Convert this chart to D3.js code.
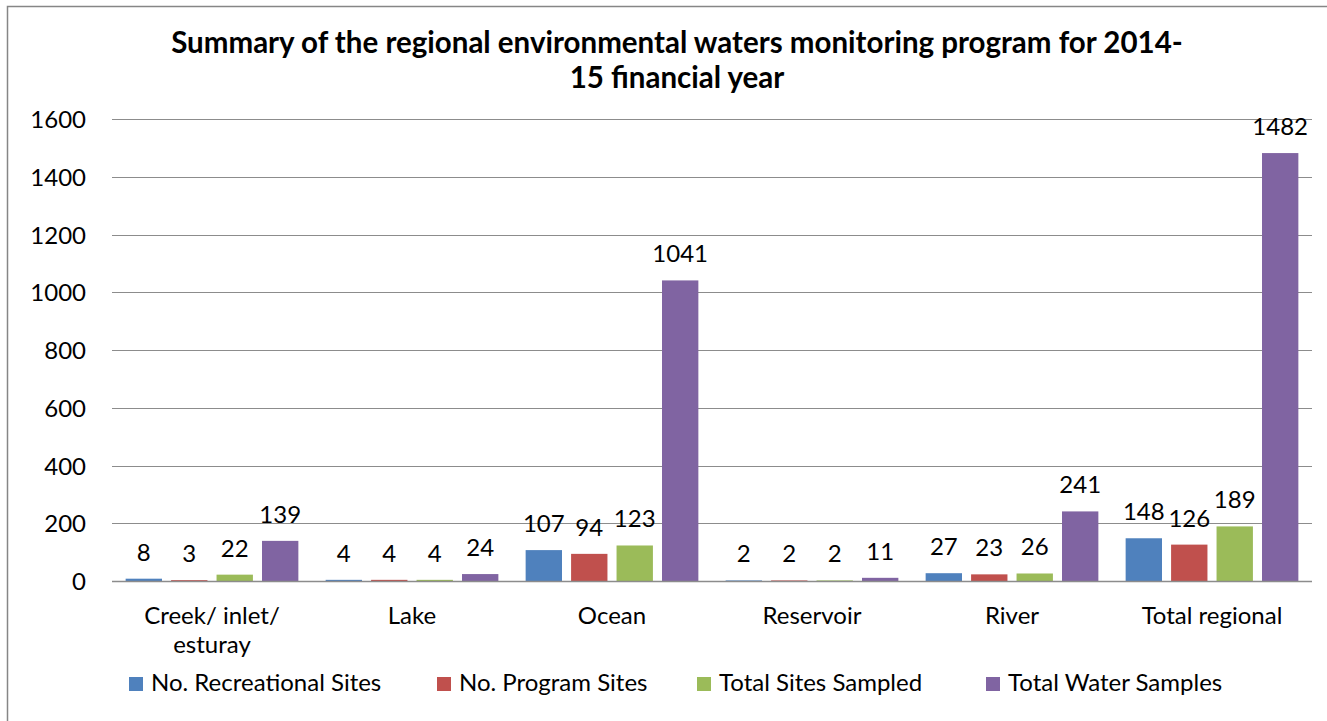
<!DOCTYPE html>
<html>
<head>
<meta charset="utf-8">
<script src="https://cdn.jsdelivr.net/npm/d3@7"></script>
<style>
  html, body { margin: 0; padding: 0; background: #fff; }
  svg { display: block; font-family: Lato, "Open Sans", sans-serif; }
</style>
</head>
<body>
<svg id="chart" width="1327" height="721"></svg>
<script>
// Regional environmental waters monitoring, 2014-15
const categories = [["Creek/ inlet/", "esturay"], ["Lake"], ["Ocean"], ["Reservoir"], ["River"], ["Total regional"]];
const seriesNames = ["No. Recreational Sites", "No. Program Sites", "Total Sites Sampled", "Total Water Samples"];
const recreationalSites = [8, 4, 107, 2, 27, 148];
const programSites = [3, 4, 94, 2, 23, 126];
const sitesSampled = [22, 4, 123, 2, 26, 189];
const waterSamples = [139, 24, 1041, 11, 241, 1482];
const yTicks = [0, 200, 400, 600, 800, 1000, 1200, 1400, 1600];
const colors = ["#4F81BD", "#C0504D", "#9BBB59", "#8064A2"];
const titleLines = ["Summary of the regional environmental waters monitoring program for 2014-", "15 financial year"];

const series = [recreationalSites, programSites, sitesSampled, waterSamples];
const FS = 24;

const svg = d3.select("#chart");

// chart frame
svg.append("rect")
  .attr("x", 7.5).attr("y", 6.5)
  .attr("width", 1340).attr("height", 740)
  .attr("fill", "#fff").attr("stroke", "#868686").attr("stroke-width", 1.5);

const plot = { left: 112, right: 1312, top: 119, bottom: 581 };

const x0 = d3.scaleBand()
  .domain(d3.range(categories.length))
  .range([plot.left, plot.right])
  .paddingInner(0).paddingOuter(0);

// clustered bars: gap width 75%, overlap -25%
const groupW = x0.bandwidth();
const barW = groupW / (4 + 3 * 0.25 + 0.75);
const barStep = barW * 1.25;
const groupPad = barW * 0.375;

const y = d3.scaleLinear().domain([0, 1600]).range([plot.bottom, plot.top]);

// gridlines
svg.append("g")
  .selectAll("line")
  .data(yTicks)
  .join("line")
  .attr("x1", plot.left).attr("x2", plot.right)
  .attr("y1", d => Math.round(y(d)) + 0.5).attr("y2", d => Math.round(y(d)) + 0.5)
  .attr("stroke", "#8C8C8C").attr("stroke-width", 1.2);

// y axis labels
const yAxis = d3.axisLeft(y).tickValues(yTicks).tickFormat(d3.format("d")).tickSize(0).tickPadding(0);
const yG = svg.append("g").attr("transform", `translate(${plot.left - 26},0)`).call(yAxis);
yG.select(".domain").remove();
yG.selectAll("text")
  .attr("font-family", "Lato, sans-serif")
  .attr("font-size", FS)
  .attr("fill", "#000")
  .attr("dy", "0.36em");

// bars with value labels
const groups = svg.append("g")
  .selectAll("g")
  .data(series)
  .join("g")
  .attr("fill", (d, i) => colors[i]);

groups.each(function(vals, si) {
  const g = d3.select(this);
  g.selectAll("rect")
    .data(vals)
    .join("rect")
    .attr("x", (v, ci) => x0(ci) + groupPad + si * barStep)
    .attr("width", barW)
    .attr("y", v => y(v))
    .attr("height", v => y(0) - y(v));
  g.selectAll("text")
    .data(vals)
    .join("text")
    .attr("x", (v, ci) => x0(ci) + groupPad + si * barStep + barW / 2)
    .attr("y", v => y(v) - 18)
    .attr("text-anchor", "middle")
    .attr("font-size", FS)
    .attr("fill", "#000")
    .text(v => v);
});

// baseline axis
svg.append("line")
  .attr("x1", plot.left).attr("x2", plot.right)
  .attr("y1", Math.round(y(0)) + 0.5).attr("y2", Math.round(y(0)) + 0.5)
  .attr("stroke", "#8C8C8C").attr("stroke-width", 1.5);

// category labels
const catG = svg.append("g")
  .selectAll("text")
  .data(categories)
  .join("text")
  .attr("x", (d, i) => x0(i) + groupW / 2)
  .attr("y", 624)
  .attr("text-anchor", "middle")
  .attr("font-size", FS)
  .attr("fill", "#000");
catG.selectAll("tspan")
  .data(d => d)
  .join("tspan")
  .attr("x", function() { return d3.select(this.parentNode).attr("x"); })
  .attr("dy", (d, i) => i === 0 ? 0 : 29)
  .text(d => d);

// title
svg.append("g")
  .selectAll("text")
  .data(titleLines)
  .join("text")
  .attr("x", 677)
  .attr("y", (d, i) => 53 + i * 35)
  .attr("text-anchor", "middle")
  .attr("font-size", 29.5)
  .attr("font-weight", "bold")
  .attr("fill", "#000")
  .text(d => d);

// legend
const legendX = [129, 437, 697, 986];
const legend = svg.append("g")
  .selectAll("g")
  .data(seriesNames)
  .join("g")
  .attr("transform", (d, i) => `translate(${legendX[i]},677)`);
legend.append("rect")
  .attr("width", 14).attr("height", 14)
  .attr("fill", (d, i) => colors[i]);
legend.append("text")
  .attr("x", 22).attr("y", 14)
  .attr("font-size", FS)
  .attr("fill", "#000")
  .text(d => d);
</script>
</body>
</html>
